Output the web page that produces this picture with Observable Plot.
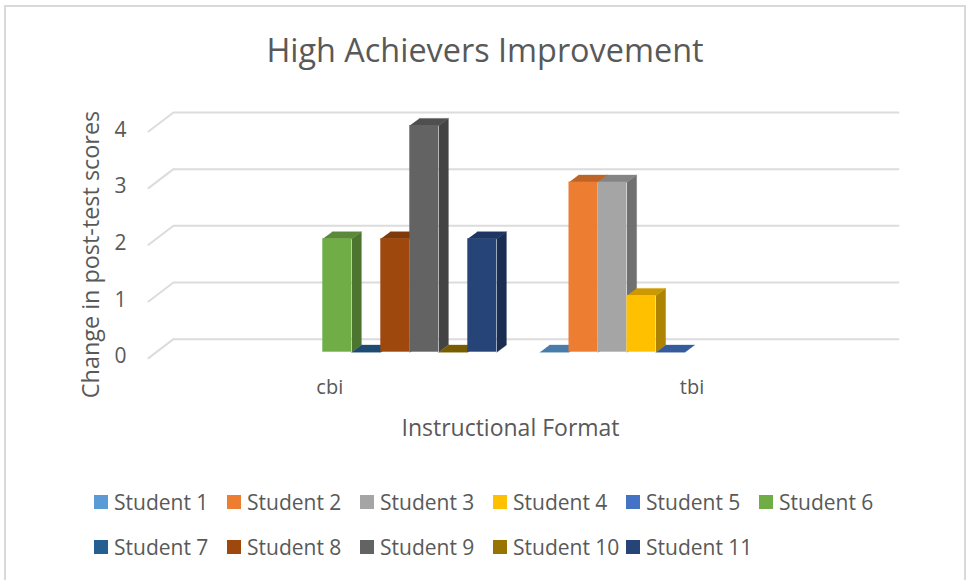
<!DOCTYPE html>
<html>
<head>
<meta charset="utf-8">
<script src="https://cdn.jsdelivr.net/npm/d3@7"></script>
<script src="https://cdn.jsdelivr.net/npm/@observablehq/plot@0.6"></script>
<style>
  html, body { margin: 0; padding: 0; background: #fff; }
  #chart { position: relative; width: 966px; height: 580px; overflow: hidden; background: #fff;
           font-family: "Open Sans", sans-serif; color: #595959; }
  #frame { position: absolute; left: 4px; top: 5px; width: 958px; height: 600px; border: 2px solid #d9d9d9; }
  #title { position: absolute; left: 0; top: 26px; width: 970px; text-align: center; font-size: 32.4px; line-height: 46px; }
  #plot { position: absolute; left: 0; top: 100px; }
  #plot svg { display: block; }
  #legend { position: absolute; left: 94px; top: 479px; display: grid; grid-template-columns: repeat(6, 133px); grid-auto-rows: 45px; }
  .item { display: flex; align-items: center; font-size: 21px; white-space: nowrap; }
  .swatch { width: 14px; height: 14px; margin-right: 6px; flex: none; }
</style>
</head>
<body>
<div id="chart">
  <div id="frame"></div>
  <div id="title"></div>
  <div id="plot"></div>
  <div id="legend"></div>
</div>
<script>
const chartTitle = "High Achievers Improvement";
const yTitle = "Change in post-test scores";
const xTitle = "Instructional Format";
const formats = ["cbi", "tbi"];
const students = ["Student 1", "Student 2", "Student 3", "Student 4", "Student 5", "Student 6",
                  "Student 7", "Student 8", "Student 9", "Student 10", "Student 11"];
const cbiValues = [null, null, null, null, null, 2, 0, 2, 4, 0, 2];
const tbiValues = [0, 3, 3, 1, 0, null, null, null, null, null, null];
const colors = ["#5b9bd5", "#ed7d31", "#a5a5a5", "#ffc000", "#4472c4", "#70ad47",
                "#255e91", "#9e480e", "#636363", "#997300", "#264478"];
const yTicks = [0, 1, 2, 3, 4];

// Scale layout: one x unit is one bar slot; groups are placed one after another.
const groupStep = 12.49;
const barDepthX = 0.33, barDepthY = 0.125;     // oblique depth of a bar
const wallDepthX = 0.86, wallDepthY = 0.335;   // oblique depth of the back wall
const gridDrop = 0.105;                        // front end of a gridline sits below its value
const gridFrontX = -1.01, gridEndX = 24.85;

const shade = (c, k) => { const r = d3.rgb(c); return d3.rgb(r.r * k, r.g * k, r.b * k).formatHex(); };

const bars = [];
[cbiValues, tbiValues].forEach((values, g) => {
  values.forEach((v, i) => {
    if (v === null) return;
    bars.push({format: formats[g], student: students[i], value: v, color: colors[i],
               x1: g * groupStep + i, x2: g * groupStep + i + 1});
  });
});

// Top and side faces of each bar, painted in series order.
const faces = [];
bars.forEach((b, n) => {
  const top = [[b.x1, b.value], [b.x2, b.value], [b.x2 + barDepthX, b.value + barDepthY], [b.x1 + barDepthX, b.value + barDepthY]];
  const side = [[b.x2, 0], [b.x2 + barDepthX, barDepthY], [b.x2 + barDepthX, b.value + barDepthY], [b.x2, b.value]];
  if (b.value > 0) side.forEach(([x, y]) => faces.push({id: `side${n}`, x, y, fill: shade(b.color, 0.68)}));
  top.forEach(([x, y]) => faces.push({id: `top${n}`, x, y, fill: shade(b.color, 0.8)}));
});

const gridRows = yTicks.flatMap(t => [
  {t, x: gridFrontX, y: t - gridDrop},
  {t, x: gridFrontX + wallDepthX, y: t - gridDrop + wallDepthY},
  {t, x: gridEndX, y: t - gridDrop + wallDepthY}
]);

const centers = formats.map((f, g) => g * groupStep + 5.24);

const plot = Plot.plot({
  width: 966,
  height: 370,
  marginLeft: 147,
  marginRight: 93,
  marginTop: 33,
  marginBottom: 95,
  style: {fontFamily: '"Open Sans", sans-serif', background: "transparent", overflow: "visible"},
  x: {type: "linear", domain: [-1, 25], range: [148.3, 902.3], label: null},
  y: {type: "linear", domain: [0, 4], range: [251.7, 25], label: null},
  marks: [
    Plot.line(gridRows, {x: "x", y: "y", z: "t", stroke: "#dcdcdc", strokeWidth: 2, curve: "linear"}),
    Plot.line(faces, {x: "x", y: "y", z: "id", fill: "fill", stroke: "fill", strokeWidth: 0.4, curve: "linear"}),
    Plot.rectY(bars, {x1: "x1", x2: "x2", y1: () => 0, y2: "value", fill: "color", title: d => `${d.student}, ${d.format}: ${d.value}`}),
    Plot.axisY({anchor: "left", ticks: yTicks, tickFormat: d3.format("d"), tickSize: 0, tickPadding: 21, dy: 4.5, fontSize: 21, color: "#595959", label: null}),
    Plot.axisY({anchor: "left", ticks: [], tickSize: 0, fontSize: 23.4, color: "#595959",
      label: yTitle, labelAnchor: "center", labelArrow: "none", labelOffset: 65}),
    Plot.axisX({anchor: "bottom", ticks: centers, tickFormat: (d) => formats[centers.indexOf(d)], tickSize: 0, tickPadding: 4,
      fontSize: 20, color: "#595959", label: null}),
    Plot.axisX({anchor: "bottom", ticks: [], tickSize: 0, fontSize: 23, color: "#595959",
      label: xTitle, labelAnchor: "center", labelArrow: "none", labelOffset: 60})
  ]
});

document.getElementById("plot").appendChild(plot);
document.getElementById("title").textContent = chartTitle;
const legend = document.getElementById("legend");
students.forEach((s, i) => {
  const item = document.createElement("div");
  item.className = "item";
  const sw = document.createElement("span");
  sw.className = "swatch";
  sw.style.background = colors[i];
  item.appendChild(sw);
  item.appendChild(document.createTextNode(s));
  legend.appendChild(item);
});
</script>
</body>
</html>
